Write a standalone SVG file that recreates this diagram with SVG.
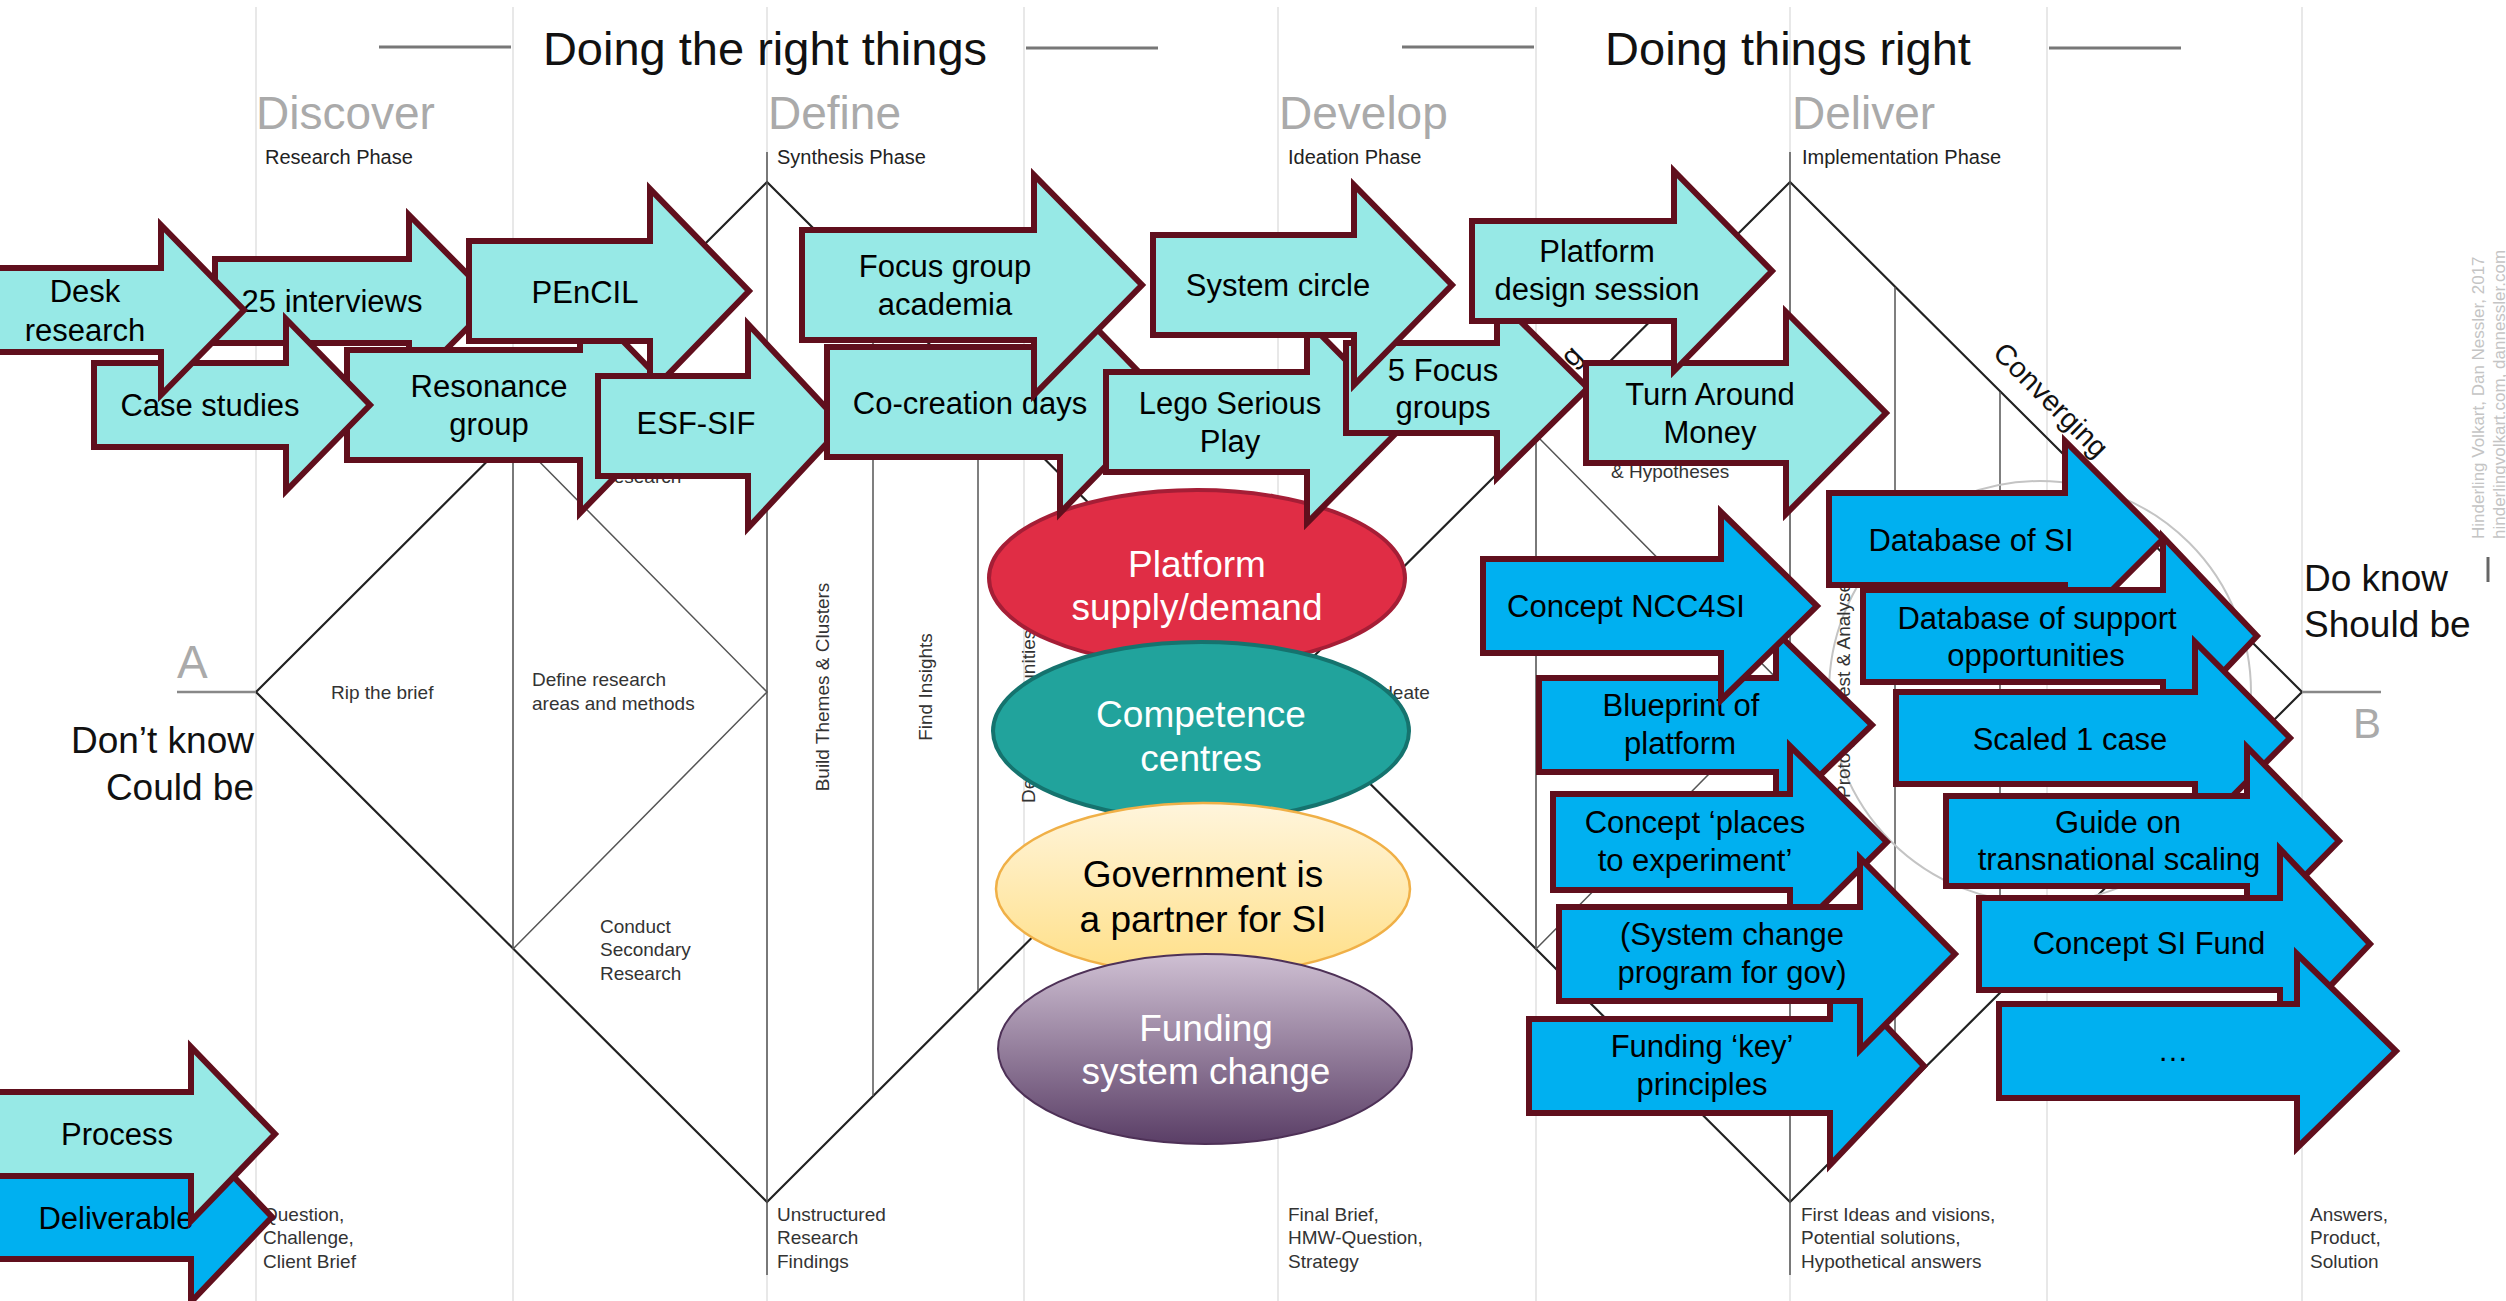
<svg xmlns="http://www.w3.org/2000/svg" width="2506" height="1301" viewBox="0 0 2506 1301">
<defs>
<linearGradient id="gYel" x1="0" y1="0" x2="0" y2="1"><stop offset="0" stop-color="#FFF5DC"/><stop offset="1" stop-color="#FFDF86"/></linearGradient>
<linearGradient id="gPur" x1="0" y1="0" x2="0" y2="1"><stop offset="0" stop-color="#CFC0D3"/><stop offset="1" stop-color="#5A3E66"/></linearGradient>
<style>
text{font-family:"Liberation Sans",Arial,sans-serif;}
.col{stroke:#e8e8e8;stroke-width:2;fill:none}
.dia{stroke:#222;stroke-width:2.2;fill:none}
.inner{stroke:#555;stroke-width:1.5;fill:none}
.hdl{stroke:#777;stroke-width:3}
.big{font-size:47px;fill:#111;text-anchor:middle}
.phase{font-size:46px;fill:#aaaaaa}
.sub{font-size:20px;fill:#222}
.sm{font-size:19px;fill:#333}
.side{font-size:37px;fill:#111}
.copy{font-size:17px;fill:#c4c4c4}
.proc{fill:#97E9E6;stroke:#600F1D;stroke-width:6}
.deliv{fill:#00B0F0;stroke:#600F1D;stroke-width:6}
.lbl{font-size:31px;fill:#000;text-anchor:middle}
.el{font-size:37px;text-anchor:middle}
</style>
</defs>
<rect width="2506" height="1301" fill="#fff"/>

<g id="background">
<g id="columns">
<line class="col" x1="256" y1="7" x2="256" y2="1301"/>
<line class="col" x1="513" y1="7" x2="513" y2="1301"/>
<line class="col" x1="767" y1="7" x2="767" y2="1301"/>
<line class="col" x1="1024" y1="7" x2="1024" y2="1301"/>
<line class="col" x1="1278" y1="7" x2="1278" y2="1301"/>
<line class="col" x1="1536" y1="7" x2="1536" y2="1301"/>
<line class="col" x1="1790" y1="7" x2="1790" y2="1301"/>
<line class="col" x1="2047" y1="7" x2="2047" y2="1301"/>
<line class="col" x1="2302" y1="7" x2="2302" y2="1301"/>
</g>
<g id="headers">
<line class="hdl" x1="379" y1="47" x2="511" y2="47"/>
<line class="hdl" x1="1026" y1="48" x2="1158" y2="48"/>
<text class="big" x="765" y="65">Doing the right things</text>
<line class="hdl" x1="1402" y1="47" x2="1534" y2="47"/>
<line class="hdl" x1="2049" y1="48" x2="2181" y2="48"/>
<text class="big" x="1788" y="65">Doing things right</text>
<text class="phase" x="256" y="129">Discover</text>
<text class="phase" x="768" y="129">Define</text>
<text class="phase" x="1279" y="129">Develop</text>
<text class="phase" x="1792" y="129">Deliver</text>
<text class="sub" x="265" y="164">Research Phase</text>
<text class="sub" x="777" y="164">Synthesis Phase</text>
<text class="sub" x="1288" y="164">Ideation Phase</text>
<text class="sub" x="1802" y="164">Implementation Phase</text>
</g>
<g id="diamonds">
<path class="dia" d="M256,692 L767,182 L1278,692 L767,1202 Z"/>
<path class="dia" d="M1278,692 L1790,182 L2302,692 L1790,1202 Z"/>
<line class="inner" x1="767" y1="152" x2="767" y2="1275"/>
<line class="inner" x1="1790" y1="152" x2="1790" y2="1275"/>
<line class="inner" x1="513" y1="435" x2="513" y2="949"/>
<path class="inner" d="M513,435 L767,692 L513,949"/>
<line class="inner" x1="873" y1="288" x2="873" y2="1096"/>
<line class="inner" x1="978" y1="393" x2="978" y2="991"/>
<line class="inner" x1="1536" y1="435" x2="1536" y2="949"/>
<path class="inner" d="M1536,435 L1790,692 L1536,949"/>
<line class="inner" x1="1895" y1="287" x2="1895" y2="1097"/>
<line class="inner" x1="2000" y1="392" x2="2000" y2="992"/>
<circle cx="2040" cy="692" r="211" fill="none" stroke="#c4c4c4" stroke-width="2"/>
<line x1="177" y1="692" x2="256" y2="692" stroke="#888" stroke-width="2.5"/>
<line x1="2302" y1="692" x2="2381" y2="692" stroke="#888" stroke-width="2.5"/>
<line x1="2488" y1="557" x2="2488" y2="582" stroke="#666" stroke-width="3"/>
</g>
<g id="side-labels">
<text class="phase" x="177" y="678">A</text>
<text class="phase" x="2353" y="738" style="font-size:42px">B</text>
<text class="side" x="254" y="753" text-anchor="end">Don’t know</text>
<text class="side" x="254" y="800" text-anchor="end">Could be</text>
<text class="side" x="2304" y="591">Do know</text>
<text class="side" x="2304" y="637">Should be</text>
<text class="copy" transform="translate(2484,539) rotate(-90)">Hinderling Volkart, Dan Nessler, 2017</text>
<text class="copy" transform="translate(2505,539) rotate(-90)">hinderlingvolkart.com, dannessler.com</text>
</g>
<g id="phase-labels">
<text class="sm" x="331" y="699">Rip the brief</text>
<text class="sm" x="532" y="686">Define research</text>
<text class="sm" x="532" y="710">areas and methods</text>
<text class="sm" x="600" y="483">Research</text>
<text class="sm" x="600" y="933">Conduct</text>
<text class="sm" x="600" y="956">Secondary</text>
<text class="sm" x="600" y="980">Research</text>
<text class="sm" transform="translate(829,687) rotate(-90)" text-anchor="middle">Build Themes &amp; Clusters</text>
<text class="sm" transform="translate(932,687) rotate(-90)" text-anchor="middle">Find Insights</text>
<text class="sm" transform="translate(1035,803) rotate(-90)">Define Opportunities</text>
<text class="sm" x="1377" y="699">Ideate</text>
<text class="sm" x="1611" y="478">&amp; Hypotheses</text>
<text class="sm" transform="translate(1850,798) rotate(-90)">Prototype, Test &amp; Analyse</text>
<text style="font-size:29px;fill:#111" transform="translate(2044,407) rotate(45)" text-anchor="middle">Converging</text>
<text style="font-size:29px;fill:#111" transform="translate(1584,357) rotate(-45)" text-anchor="end">Diverging</text>
<text class="sm" x="263" y="1221">Question,</text>
<text class="sm" x="263" y="1244">Challenge,</text>
<text class="sm" x="263" y="1268">Client Brief</text>
<text class="sm" x="777" y="1221">Unstructured</text>
<text class="sm" x="777" y="1244">Research</text>
<text class="sm" x="777" y="1268">Findings</text>
<text class="sm" x="1288" y="1221">Final Brief,</text>
<text class="sm" x="1288" y="1244">HMW-Question,</text>
<text class="sm" x="1288" y="1268">Strategy</text>
<text class="sm" x="1801" y="1221">First Ideas and visions,</text>
<text class="sm" x="1801" y="1244">Potential solutions,</text>
<text class="sm" x="1801" y="1268">Hypothetical answers</text>
<text class="sm" x="2310" y="1221">Answers,</text>
<text class="sm" x="2310" y="1244">Product,</text>
<text class="sm" x="2310" y="1268">Solution</text>
</g>
</g>

<g id="outcomes">
<g id="n-platform-supply"><ellipse cx="1197" cy="578" rx="208" ry="88" fill="#E02D45" stroke="#A51E36" stroke-width="4"/>
<text class="el" fill="#fff" x="1197" y="577">Platform</text><text class="el" fill="#fff" x="1197" y="620">supply/demand</text></g>
<g id="n-competence"><ellipse cx="1201" cy="731" rx="208" ry="89" fill="#21A39C" stroke="#15736E" stroke-width="4"/>
<text class="el" fill="#fff" x="1201" y="727">Competence</text><text class="el" fill="#fff" x="1201" y="771">centres</text></g>
<g id="n-government"><ellipse cx="1203" cy="889" rx="207" ry="86" fill="url(#gYel)" stroke="#F0B047" stroke-width="2.5"/>
<text class="el" fill="#000" x="1203" y="887">Government is</text><text class="el" fill="#000" x="1203" y="932">a partner for SI</text></g>
<g id="n-funding"><ellipse cx="1205" cy="1049" rx="207" ry="95" fill="url(#gPur)" stroke="#4E3157" stroke-width="2"/>
<text class="el" fill="#fff" x="1206" y="1041">Funding</text><text class="el" fill="#fff" x="1206" y="1084">system change</text></g>
</g>

<g id="process">
<g id="n-25-interviews"><path class="proc" d="M215,259 H409 V215 L494,301 L409,387 V343 H215 Z"/><text class="lbl" x="332" y="312">25 interviews</text></g>
<g id="n-resonance"><path class="proc" d="M347,350 H580 V297 L685,405 L580,513 V460 H347 Z"/><text class="lbl" x="489" y="397">Resonance</text><text class="lbl" x="489" y="435">group</text></g>
<g id="n-case-studies"><path class="proc" d="M94,363 H286 V319 L370,405 L286,491 V447 H94 Z"/><text class="lbl" x="210" y="416">Case studies</text></g>
<g id="n-desk-research"><path class="proc" d="M-10,268 H161 V225 L244,310 L161,395 V352 H-10 Z"/><text class="lbl" x="85" y="302">Desk</text><text class="lbl" x="85" y="341">research</text></g>
<g id="n-pencil"><path class="proc" d="M469,241 H650 V189 L749,291 L650,393 V341 H469 Z"/><text class="lbl" x="585" y="303">PEnCIL</text></g>
<g id="n-esf-sif"><path class="proc" d="M598,376 H748 V324 L843,426 L748,528 V476 H598 Z"/><text class="lbl" x="696" y="434">ESF-SIF</text></g>
<g id="n-co-creation"><path class="proc" d="M827,347 H1060 V291 L1168,402 L1060,513 V457 H827 Z"/><text class="lbl" x="970" y="414">Co-creation days</text></g>
<g id="n-focus-academia"><path class="proc" d="M802,230 H1034 V175 L1142,285 L1034,395 V340 H802 Z"/><text class="lbl" x="945" y="277">Focus group</text><text class="lbl" x="945" y="315">academia</text></g>
<g id="n-lego"><path class="proc" d="M1106,372 H1307 V321 L1407,422 L1307,523 V472 H1106 Z"/><text class="lbl" x="1230" y="414">Lego Serious</text><text class="lbl" x="1230" y="452">Play</text></g>
<g id="n-5-focus"><path class="proc" d="M1346,343 H1497 V298 L1588,388 L1497,478 V433 H1346 Z"/><text class="lbl" x="1443" y="381">5 Focus</text><text class="lbl" x="1443" y="418">groups</text></g>
<g id="n-turn-around"><path class="proc" d="M1586,363 H1786 V312 L1886,413 L1786,514 V463 H1586 Z"/><text class="lbl" x="1710" y="405">Turn Around</text><text class="lbl" x="1710" y="443">Money</text></g>
<g id="n-system-circle"><path class="proc" d="M1153,235 H1354 V185 L1452,285 L1354,385 V335 H1153 Z"/><text class="lbl" x="1278" y="296">System circle</text></g>
<g id="n-platform-design"><path class="proc" d="M1472,221 H1674 V171 L1772,271 L1674,371 V321 H1472 Z"/><text class="lbl" x="1597" y="262">Platform</text><text class="lbl" x="1597" y="300">design session</text></g>
</g>

<g id="deliverables">
<g id="n-blueprint"><path class="deliv" d="M1539,678 H1776 V632 L1872,725 L1776,818 V772 H1539 Z"/><text class="lbl" x="1681" y="716">Blueprint of</text><text class="lbl" x="1680" y="754">platform</text></g>
<g id="n-ncc4si"><path class="deliv" d="M1483,559 H1721 V512 L1817,606 L1721,700 V653 H1483 Z"/><text class="lbl" x="1626" y="617">Concept NCC4SI</text></g>
<g id="n-places"><path class="deliv" d="M1553,794 H1790 V746 L1887,842 L1790,938 V890 H1553 Z"/><text class="lbl" x="1695" y="833">Concept ‘places</text><text class="lbl" x="1695" y="871">to experiment’</text></g>
<g id="n-funding-key"><path class="deliv" d="M1529,1019 H1830 V967 L1924,1066 L1830,1165 V1113 H1529 Z"/><text class="lbl" x="1702" y="1057">Funding ‘key’</text><text class="lbl" x="1702" y="1095">principles</text></g>
<g id="n-system-change"><path class="deliv" d="M1559,907 H1860 V858 L1955,954 L1860,1050 V1001 H1559 Z"/><text class="lbl" x="1732" y="945">(System change</text><text class="lbl" x="1732" y="983">program for gov)</text></g>
<g id="n-db-si"><path class="deliv" d="M1829,493 H2065 V441 L2163,539 L2065,637 V585 H1829 Z"/><text class="lbl" x="1971" y="551">Database of SI</text></g>
<g id="n-db-support"><path class="deliv" d="M1863,590 H2163 V537 L2257,636 L2163,735 V682 H1863 Z"/><text class="lbl" x="2037" y="629">Database of support</text><text class="lbl" x="2036" y="666">opportunities</text></g>
<g id="n-scaled"><path class="deliv" d="M1896,692 H2195 V642 L2290,738 L2195,834 V784 H1896 Z"/><text class="lbl" x="2070" y="750">Scaled 1 case</text></g>
<g id="n-guide"><path class="deliv" d="M1946,796 H2247 V747 L2339,841 L2247,935 V886 H1946 Z"/><text class="lbl" x="2118" y="833">Guide on</text><text class="lbl" x="2119" y="870">transnational scaling</text></g>
<g id="n-si-fund"><path class="deliv" d="M1979,898 H2280 V849 L2370,944 L2280,1039 V990 H1979 Z"/><text class="lbl" x="2149" y="954">Concept SI Fund</text></g>
<g id="n-more"><path class="deliv" d="M1999,1004 H2297 V954 L2396,1051 L2297,1148 V1098 H1999 Z"/><text class="lbl" x="2173" y="1061">…</text></g>
</g>

<g id="legend">
<g id="n-legend-deliverable"><path class="deliv" d="M-10,1175 H191 V1132 L272,1217 L191,1302 V1259 H-10 Z"/><text class="lbl" x="116" y="1229">Deliverable</text></g>
<g id="n-legend-process"><path class="proc" d="M-10,1092 H191 V1047 L275,1134 L191,1221 V1176 H-10 Z"/><text class="lbl" x="117" y="1145">Process</text></g>
</g>
<g id="connectors"></g>
</svg>
